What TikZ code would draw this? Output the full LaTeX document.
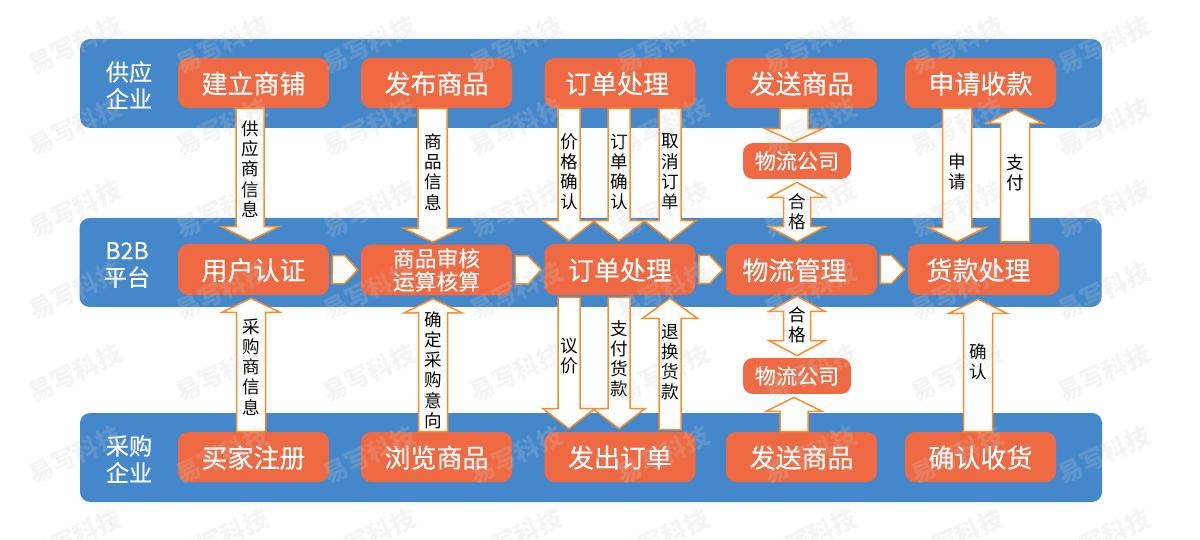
\documentclass[tikz,border=0pt]{standalone}
\usepackage{fontspec}
\setmainfont{Noto Sans CJK SC}
\newfontfamily\boxfont[FakeBold=0.25]{Noto Sans CJK SC}
\usepackage{pgf,tikz}
\usetikzlibrary{calc}
\definecolor{bandblue}{HTML}{4488CB}
\definecolor{boxorange}{HTML}{EF6A42}
\definecolor{arrowline}{HTML}{FA8E26}
\newcommand{\pxu}{0.02cm}
\tikzstyle{band}=[fill=bandblue,rounded corners=10*\pxu,minimum width=1022*\pxu,minimum height=89*\pxu,inner sep=0pt]
\tikzstyle{rowname}=[text=white,align=center,font=\boxfont\fontsize{13.2}{15.3}\selectfont]
\tikzstyle{stepbox}=[fill=boxorange,rounded corners=10*\pxu,text=white,align=center,minimum width=151*\pxu,minimum height=50*\pxu,inner sep=0pt,text height=14pt,text depth=2pt,font=\boxfont\fontsize{14.8}{16}\selectfont]
\tikzstyle{tallbox} = [stepbox, minimum height=51*\pxu]
\tikzstyle{logbox} = [stepbox, minimum width=108*\pxu, minimum height=36*\pxu, text height=10.8pt, text depth=1.7pt, font=\boxfont\fontsize{12}{13}\selectfont]
\tikzstyle{arrowtext}=[align=center,inner sep=0pt,font=\fontsize{10}{11.5}\selectfont]
\tikzstyle{stamp}=[text=gray!40,opacity=0.2,rotate=25,font=\fontsize{14}{14}\selectfont\bfseries]
% shaft width, head width, head length
\tikzset{blockarrow/.style n args={3}{draw=arrowline,fill=white,line width=1.5*\pxu,
    to path={($(\tikztostart)!#1/2*\pxu!90:(\tikztotarget)$)
    -- ($(\tikztotarget)!#3*\pxu!(\tikztostart)!#1/2*\pxu!90:(\tikztotarget)$)
    -- ($(\tikztotarget)!#3*\pxu!(\tikztostart)!#2/2*\pxu!90:(\tikztotarget)$)
    -- (\tikztotarget)
    -- ($(\tikztotarget)!#3*\pxu!(\tikztostart)!#2/2*\pxu!-90:(\tikztotarget)$)
    -- ($(\tikztotarget)!#3*\pxu!(\tikztostart)!#1/2*\pxu!-90:(\tikztotarget)$)
    -- ($(\tikztostart)!#1/2*\pxu!-90:(\tikztotarget)$) -- cycle}}}
\tikzset{blockdouble/.style n args={3}{draw=arrowline,fill=white,line width=1.5*\pxu,
    to path={(\tikztostart)
    -- ($(\tikztostart)!#3*\pxu!(\tikztotarget)!#2/2*\pxu!90:(\tikztotarget)$)
    -- ($(\tikztostart)!#3*\pxu!(\tikztotarget)!#1/2*\pxu!90:(\tikztotarget)$)
    -- ($(\tikztotarget)!#3*\pxu!(\tikztostart)!#1/2*\pxu!90:(\tikztotarget)$)
    -- ($(\tikztotarget)!#3*\pxu!(\tikztostart)!#2/2*\pxu!90:(\tikztotarget)$)
    -- (\tikztotarget)
    -- ($(\tikztotarget)!#3*\pxu!(\tikztostart)!#2/2*\pxu!-90:(\tikztotarget)$)
    -- ($(\tikztotarget)!#3*\pxu!(\tikztostart)!#1/2*\pxu!-90:(\tikztotarget)$)
    -- ($(\tikztostart)!#3*\pxu!(\tikztotarget)!#1/2*\pxu!-90:(\tikztotarget)$)
    -- ($(\tikztostart)!#3*\pxu!(\tikztotarget)!#2/2*\pxu!-90:(\tikztotarget)$)
    -- cycle}}}

\begin{document}
\begin{tikzpicture}[x=0.02cm,y=-0.02cm]
    \useasboundingbox (0,0) rectangle (1200,540);
    \foreach \pos/\name in {{(591,83.5)/bandtop}, {(590.5,262.5)/bandmid}, {(591,457.5)/bandlow}}
        \node[band] (\name) at \pos {};
    \foreach \pos/\name/\label in {{(129,85)/rowtop/供应\\企业}, {(127,265)/rowmid/B2B\\平台}, {(129,459)/rowlow/采购\\企业}}
        \node[rowname] (\name) at \pos {\label};
    \foreach \pos/\name/\label in {{(253.5,83)/sup1/建立商铺}, {(436.5,83)/sup2/发布商品}, {(620,83)/sup3/订单处理\hspace*{3.4pt}},
        {(801.5,83)/sup4/发送商品}, {(980.5,83)/sup5/申请收款},
        {(253.5,457)/buy1/买家注册}, {(436.5,457)/buy2/浏览商品}, {(620,457)/buy3/发出订单},
        {(801.5,457)/buy4/发送商品}, {(980.5,457)/buy5/确认收货}}
        \node[stepbox] (\name) at \pos {\label};
    \foreach \pos/\name/\label in {{(253.5,269.5)/plat1/用户认证}, {(620,269.5)/plat3/订单处理},
        {(801.5,269.5)/plat4/物流管理\hspace*{8pt}}, {(983.5,269.5)/plat5/货款处理\hspace*{5.7pt}}}
        \node[tallbox] (\name) at \pos {\label};
    \node[tallbox,text height={},text depth={},font=\boxfont\fontsize{12.4}{13.2}\selectfont] (plat2) at (436.5,270) {商品审核\\运算核算};
    \node[logbox] (log1) at (797,161) {物流公司};
    \node[logbox] (log2) at (797,376) {物流公司};
    \foreach \from/\to in {plat1/plat2, plat2/plat3, plat3/plat4, plat4/plat5}
        \path[blockarrow={28}{28}{13}] ($(\from.east)+(3,0)$) to ($(\to.west)+(-3,0)$);
    \foreach \x/\from/\to/\sg/\eg/\w/\h/\l in {250/sup1.south/plat1.north/0/-3/28/57/14,
        432.5/sup2.south/plat2.north/0/-2/29/58/14,
        569/sup3.south/plat3.north/0/-3/22/52/20, 619/sup3.south/plat3.north/0/-3/22/52/20,
        670/sup3.south/plat3.north/0/-3/22/52/20,
        794/sup4.south/log1.north/0/-1/28/58/13,
        957/sup5.south/plat5.north/0/-2/29/57/14, 1015/plat5.north/sup5.south/-2/1/29/56/14,
        251/buy1.north/plat1.south/0/3/29/58/14, 433/buy2.north/plat2.south/0/3/29/58/14,
        569/plat3.south/buy3.north/2/-3/22/52/20, 619/plat3.south/buy3.north/2/-3/22/52/20,
        670/buy3.north/plat3.south/-2/3/22/55/20,
        794/buy4.north/log2.south/0/3/28/56/14, 978/buy5.north/plat5.south/0/4/29/58/14}
        \path[blockarrow={\w}{\h}{\l}] ($(\x,0 |- \from)+(0,\sg)$) to ($(\x,0 |- \to)+(0,\eg)$);
    \path[blockdouble={27}{56}{15}] ($(797,0 |- log1.south)+(0,3)$) to ($(797,0 |- plat4.north)+(0,-2)$);
    \path[blockdouble={27}{56}{15}] ($(797,0 |- plat4.south)+(0,1)$) to ($(797,0 |- log2.north)+(0,-2)$);
    \foreach \pos/\name/\label in {{(250,169)/txt1/供\\应\\商\\信\\息}, {(433,172)/txt2/商\\品\\信\\息},
        {(569,172)/txt3/价\\格\\确\\认}, {(619,172)/txt4/订\\单\\确\\认}, {(670,172)/txt5/取\\消\\订\\单},
        {(797,212)/txt6/合\\格}, {(957,172)/txt7/申\\请}, {(1015,173)/txt8/支\\付},
        {(251,367)/txt9/采\\购\\商\\信\\息}, {(433,370)/txt10/确\\定\\采\\购\\意\\向},
        {(569,356)/txt11/议\\价}, {(619,359)/txt12/支\\付\\货\\款}, {(670,362)/txt13/退\\换\\货\\款},
        {(797,325)/txt14/合\\格}, {(978,362)/txt15/确\\认}}
        \node[arrowtext] (\name) at \pos {\label};
    \foreach \wx in {75,222,369,516,663,810,957,1104}
        \foreach \wy in {45,127,209,291,373,455,537}
            \node[stamp] (stamp\wx-\wy) at (\wx,\wy) {易写科技};
\end{tikzpicture}
\end{document}
